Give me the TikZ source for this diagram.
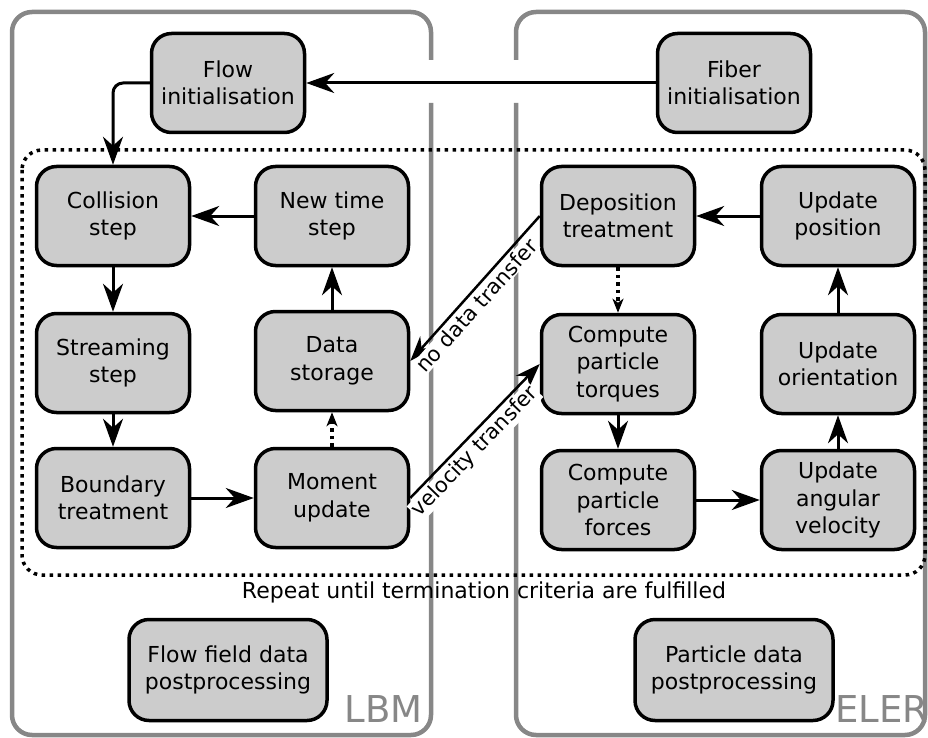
\documentclass[tikz,border=0pt]{standalone}
\usepackage{fontspec}
\setmainfont{DejaVu Sans}
\usetikzlibrary{arrows.meta}
\definecolor{boxfill}{HTML}{CCCCCC}
\definecolor{framegray}{HTML}{878787}

\begin{document}
\begin{tikzpicture}[x=1pt,y=-1pt,
  stepbox/.style={draw=black, line width=3.5pt, fill=boxfill, rounded corners=20pt,
    minimum width=153pt, minimum height=99pt, align=center, inner sep=0pt,
    font=\fontsize{22}{27.5}\selectfont},
  postbox/.style={stepbox, minimum width=198pt, minimum height=101pt},
  flowarrow/.style={line width=3pt, -{Stealth[length=28pt,width=20pt,inset=9pt]}},
  weakarrow/.style={line width=3.5pt, dash pattern=on 3.5pt off 4pt,
    -{Stealth[length=14pt,width=11pt,inset=4pt]}},
  xferarrow/.style={line width=2.5pt, -{Stealth[length=25pt,width=18pt,inset=8pt]}},
  xferlabel/.style={font=\fontsize{21}{24}\selectfont, sloped, below=2pt,
    fill=white, inner sep=1pt},
  panel/.style={draw=framegray, line width=4.5pt, rounded corners=20pt},
  panellabel/.style={text=framegray, inner sep=0pt, font=\fontsize{37}{37}\selectfont},
  loopframe/.style={draw=black, line width=3.5pt, dash pattern=on 3.5pt off 4.5pt,
    rounded corners=20pt},
]
\useasboundingbox (0,0) rectangle (928,738);

% the two solver panels, open where the initialisation link passes
\draw[panel] (431,103) -- (431,735) -- (12,735) -- (12,12) -- (431,12) -- (431,60);
\draw[panel] (516,60) -- (516,12) -- (925,12) -- (925,735) -- (516,735) -- (516,103);

% time loop
\draw[loopframe] (22,150) rectangle (925,575);

% steps
\node[stepbox] (flowinit) at (228,83) {Flow\\initialisation};
\node[stepbox] (fiberinit) at (734,83) {Fiber\\initialisation};
\node[stepbox] (collision) at (113,216) {Collision\\step};
\node[stepbox] (newtime) at (332,216) {New time\\step};
\node[stepbox] (deposition) at (618,216) {Deposition\\treatment};
\node[stepbox] (position) at (838,216) {Update\\position};
\node[stepbox] (streaming) at (113,363) {Streaming\\step};
\node[stepbox] (storage) at (332,361) {Data\\storage};
\node[stepbox] (torques) at (618,364) {Compute\\particle\\torques};
\node[stepbox] (orientation) at (838,364) {Update\\orientation};
\node[stepbox] (boundary) at (113,498) {Boundary\\treatment};
\node[stepbox] (moment) at (332,498) {Moment\\update};
\node[stepbox] (forces) at (618,500) {Compute\\particle\\forces};
\node[stepbox] (angular) at (838,500) {Update\\angular\\velocity};
\node[postbox] (flowpost) at (228,670) {Flow field data\\postprocessing};
\node[postbox] (partpost) at (734,670) {Particle data\\postprocessing};

\node[anchor=base, inner sep=0pt, font=\fontsize{22}{26}\selectfont] (repeat) at (484,598)
  {Repeat until termination criteria are fulfilled};
\node[panellabel, anchor=base east] (lbm) at (423,722) {LBM};
\node[panellabel, anchor=base west] (eler) at (835,722) {ELER};

% flow solver loop
\draw[flowarrow] (fiberinit) -- (flowinit);
\draw[flowarrow, rounded corners=10pt] (flowinit.west) -| (collision.north);
\draw[flowarrow] (newtime) -- (collision);
\draw[flowarrow] (collision) -- (streaming);
\draw[flowarrow] (streaming) -- (boundary);
\draw[flowarrow] (boundary) -- (moment);
\draw[weakarrow] (moment) -- (storage);
\draw[flowarrow] (storage) -- (newtime);

% particle solver loop
\draw[flowarrow] (position) -- (deposition);
\draw[weakarrow] (deposition) -- (torques);
\draw[flowarrow] (torques) -- (forces);
\draw[flowarrow] (forces) -- (angular);
\draw[flowarrow] (angular) -- (orientation);
\draw[flowarrow] (orientation) -- (position);

% coupling
\draw[xferarrow] (deposition.west) -- node[xferlabel, pos=0.56] {no data transfer} (storage.east);
\draw[xferarrow] (moment.east) -- node[xferlabel, pos=0.42] {velocity transfer} (torques.west);
\end{tikzpicture}
\end{document}
